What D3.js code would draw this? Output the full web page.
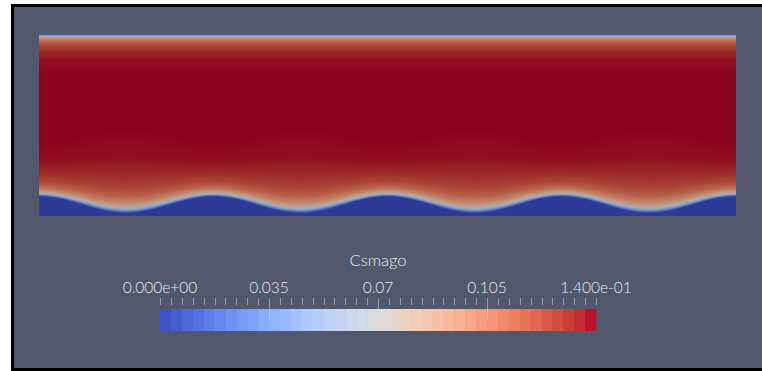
<!DOCTYPE html>
<html><head><meta charset="utf-8">
<script src="https://cdn.jsdelivr.net/npm/d3@7"></script>
<style>html,body{margin:0;padding:0;background:#fff;overflow:hidden} svg{display:block}</style>
</head><body>
<script>
// ---------------- data ----------------
const fieldName = "Csmago";
const rangeMin = 0, rangeMax = 0.14;
const tickValues = [0, 0.035, 0.07, 0.105, 0.14];
const tickLabels = ["0.000e+00", "0.035", "0.07", "0.105", "1.400e-01"];
const minorTickCount = 40;
const colorBands = 40;
// channel geometry (x in wavelengths, y as fraction of channel height)
const waveCount = 4;
const wallCrest = 0.107, wallTrough = 0.016;
// Csmago vs distance from the top wall (distance in % of channel height)
const profileDist  = [0, 0.55, 1.1, 1.65, 2.75, 4.4, 6.6, 9.9, 14.3, 22];
const profileValue = [0, 0.03, 0.06, 0.08, 0.10, 0.115, 0.125, 0.133, 0.138, 0.14];
// boundary layer thickening over the wavy wall (crest / trough)
const bottomThickCrest = 1.3, bottomThickTrough = 2.1;
// Cool to Warm colormap
const cmapColors = ["#3b4cc0","#445acc","#4d68d7","#5775e1","#6282ea","#6c8ef1","#779af7","#82a5fb","#8db0fe","#98b9ff","#a3c2ff","#aec9fd","#b8d0f9","#c2d5f4","#ccd9ee","#d5dbe6","#dddddd","#e5d8d1","#ecd3c5","#f1ccb9","#f5c4ad","#f7bba0","#f7b194","#f7a687","#f49a7b","#f18d6f","#ec7f63","#e57058","#de604d","#d55042","#cb3e38","#c0282f","#b40426"];
const shade = 0.78;

// ---------------- layout ----------------
const W = 762, H = 371;
const plot = {x0: 39, x1: 736, y0: 34, y1: 216};
const bar = {x0: 160, x1: 596, y0: 309, y1: 331};
const FONT = "Lato, 'DejaVu Sans', sans-serif";

const svg = d3.select("body").append("svg").attr("width", W).attr("height", H);
svg.append("rect").attr("x", 11).attr("y", 4).attr("width", W - 11).attr("height", H - 4).attr("fill", "#000");
svg.append("rect").attr("x", 14).attr("y", 7).attr("width", W - 14).attr("height", 361).attr("fill", "rgb(82,87,110)");

const cmapPos = cmapColors.map((c, i) => i / (cmapColors.length - 1));
const cmap = d3.scaleLinear().domain(cmapPos).range(cmapColors).interpolate(d3.interpolateRgb).clamp(true);
const vNorm = d3.scaleLinear().domain([rangeMin, rangeMax]).range([0, 1]).clamp(true);

// ---------------- field ----------------
const xS = d3.scaleLinear().domain([0, waveCount]).range([plot.x0, plot.x1]);
const yS = d3.scaleLinear().domain([0, 1]).range([plot.y1, plot.y0]);
const prof = d3.scaleLinear().domain(profileDist).range(profileValue).clamp(true);
const pw = plot.x1 - plot.x0, ph = plot.y1 - plot.y0;
const canvas = document.createElement("canvas");
canvas.width = pw; canvas.height = ph;
const ctx = canvas.getContext("2d");
const img = ctx.createImageData(pw, ph);
const SS = 3;
for (let py = 0; py < ph; py++) {
  for (let px = 0; px < pw; px++) {
    let r = 0, g = 0, b = 0;
    for (let s = 0; s < SS; s++) {
      const X = xS.invert(plot.x0 + px + 0.5);
      const Y = yS.invert(plot.y0 + py + (s + 0.5) / SS);
      const c = Math.cos(2 * Math.PI * X);
      const wall = wallTrough + (wallCrest - wallTrough) * (1 + c) / 2;
      let v = 0;
      if (Y > wall) {
        const thick = bottomThickCrest + (bottomThickTrough - bottomThickCrest) * (1 - c) / 2;
        const gB = prof((Y - wall) * 100 / thick) / rangeMax;
        const gT = prof((1 - Y) * 100) / rangeMax;
        v = rangeMax * gB * gT;
      }
      const col = d3.rgb(cmap(vNorm(v)));
      r += col.r; g += col.g; b += col.b;
    }
    const k = (py * pw + px) * 4;
    img.data[k] = r / SS * shade; img.data[k + 1] = g / SS * shade; img.data[k + 2] = b / SS * shade; img.data[k + 3] = 255;
  }
}
ctx.putImageData(img, 0, 0);
svg.append("image").attr("x", plot.x0).attr("y", plot.y0).attr("width", pw).attr("height", ph)
  .attr("href", canvas.toDataURL());

// ---------------- color bar ----------------
const bS = d3.scaleLinear().domain([rangeMin, rangeMax]).range([bar.x0, bar.x1]);
const bands = d3.range(colorBands);
const bw = (rangeMax - rangeMin) / colorBands;
svg.append("g").selectAll("rect").data(bands).join("rect")
  .attr("x", i => bS(rangeMin + i * bw))
  .attr("y", bar.y0)
  .attr("width", i => bS(rangeMin + (i + 1) * bw) - bS(rangeMin + i * bw) + 0.5)
  .attr("height", bar.y1 - bar.y0)
  .attr("fill", i => cmap((i + 0.5) / colorBands));

const minor = d3.range(minorTickCount + 1).map(i => rangeMin + i * (rangeMax - rangeMin) / minorTickCount);
svg.append("g").selectAll("line").data(minor).join("line")
  .attr("x1", d => Math.round(bS(d)) + 0.5).attr("x2", d => Math.round(bS(d)) + 0.5)
  .attr("y1", 298).attr("y2", 305)
  .attr("stroke", "rgba(210,212,220,0.55)").attr("stroke-width", 1);
svg.append("g").selectAll("line").data(tickValues.slice(1, -1)).join("line")
  .attr("x1", d => Math.round(bS(d)) + 0.5).attr("x2", d => Math.round(bS(d)) + 0.5)
  .attr("y1", 305).attr("y2", 320)
  .attr("stroke", "rgba(210,212,220,0.55)").attr("stroke-width", 1);

svg.append("g").selectAll("text").data(tickValues).join("text")
  .attr("x", d => bS(d)).attr("y", 293)
  .attr("text-anchor", "middle")
  .attr("font-family", FONT).attr("font-size", 15.5).attr("font-weight", 300)
  .attr("fill", "#ececec")
  .text((d, i) => tickLabels[i]);

svg.append("text").attr("x", (bar.x0 + bar.x1) / 2).attr("y", 266)
  .attr("text-anchor", "middle")
  .attr("font-family", FONT).attr("font-size", 16.5).attr("font-weight", 300)
  .attr("fill", "#ececec")
  .text(fieldName);
</script>
</body></html>
